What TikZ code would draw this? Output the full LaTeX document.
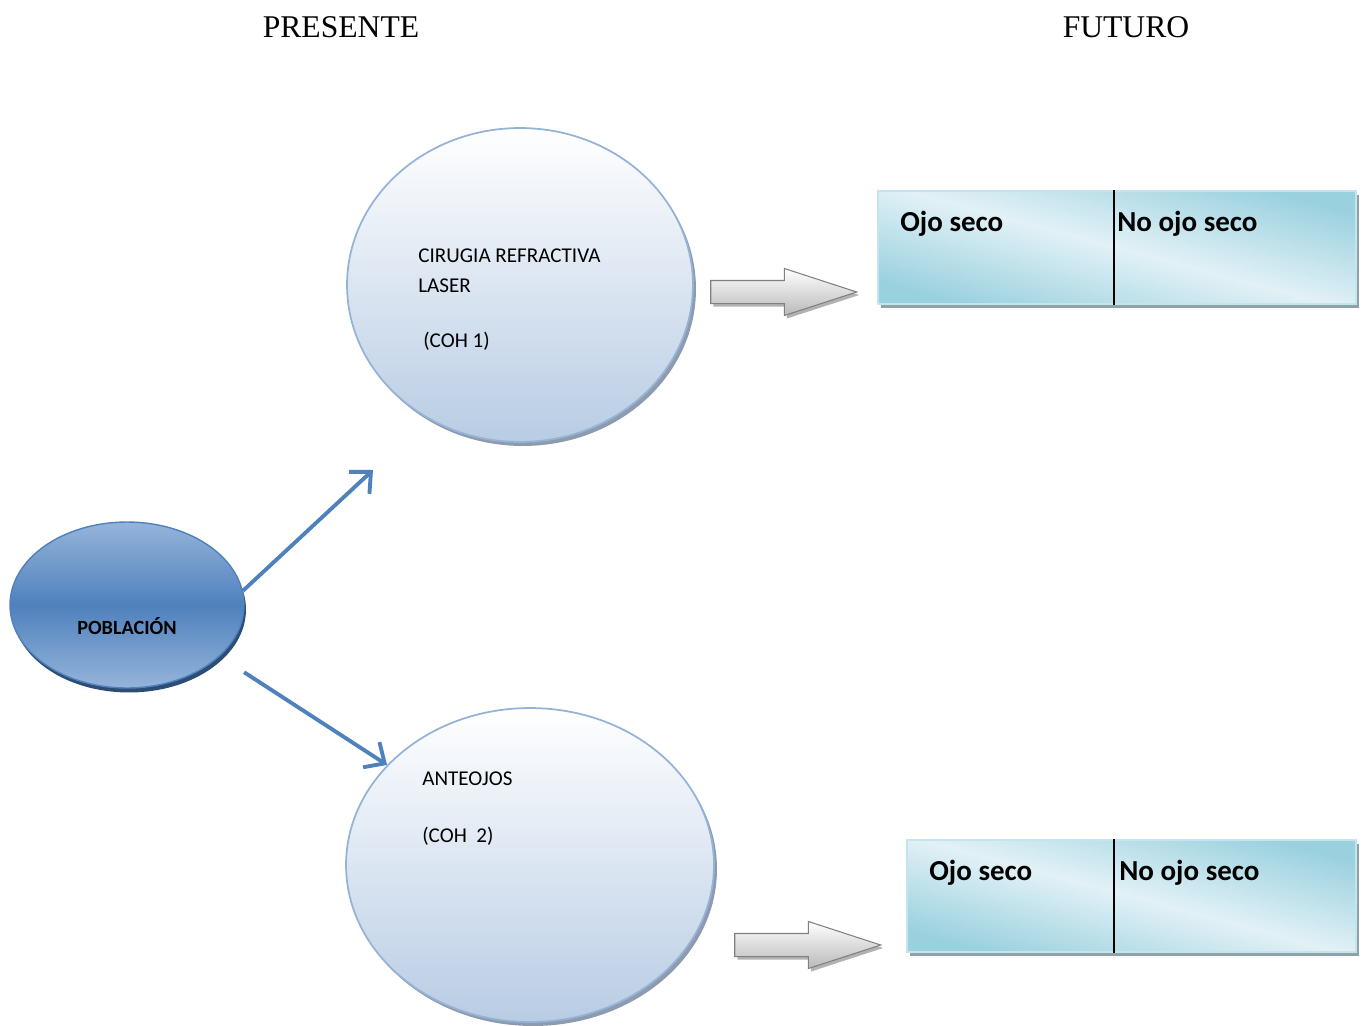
\documentclass[tikz,border=0pt]{standalone}
\usepackage{fontspec}
\setmainfont{Liberation Serif}
\newfontfamily\calibri{Carlito}
\usetikzlibrary{positioning,arrows.meta,shapes.geometric,shapes.arrows,shadows}

\definecolor{azulpob}{HTML}{4F81BD}
\definecolor{azulclaro}{HTML}{95B4DA}
\definecolor{sombrapob}{HTML}{2C4D75}
\definecolor{bordecoh}{HTML}{95B3D7}
\definecolor{fondocoh}{HTML}{B8CCE4}
\definecolor{sombracoh}{HTML}{8E9BAE}
\definecolor{aguaoscuro}{HTML}{9AD1DF}
\definecolor{aguaclaro}{HTML}{E2F1F6}
\definecolor{bordecaja}{HTML}{C4E5EE}
\definecolor{sombracaja}{HTML}{8FA2A8}

\begin{document}
\begin{tikzpicture}[
    x=0.02cm, y=-0.02cm,
    >={Straight Barb[length=0.32cm,width=0.6cm]},
    poblacion/.style={
        ellipse,
        draw=azulpob,
        line width=0.8pt,
        top color=azulclaro,
        bottom color=azulclaro,
        middle color=azulpob,
        minimum width=4.68cm,
        minimum height=3.32cm,
        drop shadow={shadow xshift=0.04cm, shadow yshift=-0.09cm, fill=sombrapob, opacity=1}
    },
    cohorte/.style={
        ellipse,
        draw=bordecoh,
        line width=1pt,
        top color=white,
        bottom color=fondocoh,
        minimum height=6.28cm,
        drop shadow={shadow xshift=0.06cm, shadow yshift=-0.08cm, fill=sombracoh, opacity=1}
    },
    resultado/.style={
        rectangle,
        draw=bordecaja,
        line width=0.8pt,
        top color=aguaoscuro,
        bottom color=aguaoscuro,
        middle color=aguaclaro,
        shading angle=-15,
        drop shadow={shadow xshift=0.06cm, shadow yshift=-0.08cm, fill=sombracaja, opacity=1}
    },
    bloque/.style={
        single arrow,
        draw=gray,
        line width=0.6pt,
        top color=white,
        bottom color=gray!55,
        inner xsep=0pt,
        inner ysep=0.22cm,
        minimum width=0.92cm,
        minimum height=2.92cm,
        single arrow head extend=0.24cm,
        single arrow tip angle=36,
        drop shadow={shadow xshift=0.05cm, shadow yshift=-0.06cm, fill=gray!60, opacity=1}
    },
    flecha/.style={->, draw=azulpob, line width=2.2pt},
    titulo/.style={anchor=base, inner sep=0pt, font=\fontsize{18}{21}\selectfont},
    texto/.style={anchor=base west, inner sep=0pt, font=\calibri\fontsize{12}{14}\selectfont},
    celda/.style={anchor=base west, inner sep=0pt, font=\calibri\bfseries\fontsize{16.5}{19}\selectfont}
]
    \useasboundingbox (0,0) rectangle (1365,1025);

    % Titulos
    \node[titulo] (presente) at (341,37) {PRESENTE};
    \node[titulo] (futuro) at (1126,37) {FUTURO};

    % Poblacion y cohortes
    \node[poblacion] (pob) at (127,605) {};
    \node[anchor=base, inner sep=0pt, font=\calibri\bfseries\fontsize{11.5}{14}\selectfont] (pobtxt) at (127,634) {POBLACIÓN};

    \node[cohorte, minimum width=6.92cm] (coh1) at (520,285) {};
    \node[texto] (coh1a) at (418,262) {CIRUGIA REFRACTIVA};
    \node[texto] (coh1b) at (418,292) {LASER};
    \node[texto] (coh1c) at (423,347) {(COH 1)};

    \node[cohorte, minimum width=7.36cm] (coh2) at (530,865) {};
    \node[texto] (coh2a) at (422,785) {ANTEOJOS};
    \node[texto] (coh2b) at (422,842) {(COH\ \ 2)};

    % Flechas de bloque
    \node[bloque] (blq1) at (766,292) {};
    \node[bloque] (blq2) at (790,945) {};

    % Resultados
    \node[resultado, minimum width=9.56cm, minimum height=2.26cm] (res1) at (1117,247.5) {};
    \coordinate (div1) at (1114,0);
    \draw[line width=1pt] (div1 |- res1.north) -- (div1 |- res1.south);
    \node[celda] (ojo1) at (900,231) {Ojo seco};
    \node[celda] (noojo1) at (1117,231) {No ojo seco};

    \node[resultado, minimum width=8.98cm, minimum height=2.24cm] (res2) at (1131.5,896) {};
    \coordinate (div2) at (1114,0);
    \draw[line width=1pt] (div2 |- res2.north) -- (div2 |- res2.south);
    \node[celda] (ojo2) at (929,880) {Ojo seco};
    \node[celda] (noojo2) at (1119,880) {No ojo seco};

    % Flechas
    \coordinate (fin1) at (373,470);
    \draw[flecha] (pob.7) -- (fin1);
    \draw[flecha, shorten <=0.58cm] (pob.-29) -- (coh2.145);
\end{tikzpicture}
\end{document}
